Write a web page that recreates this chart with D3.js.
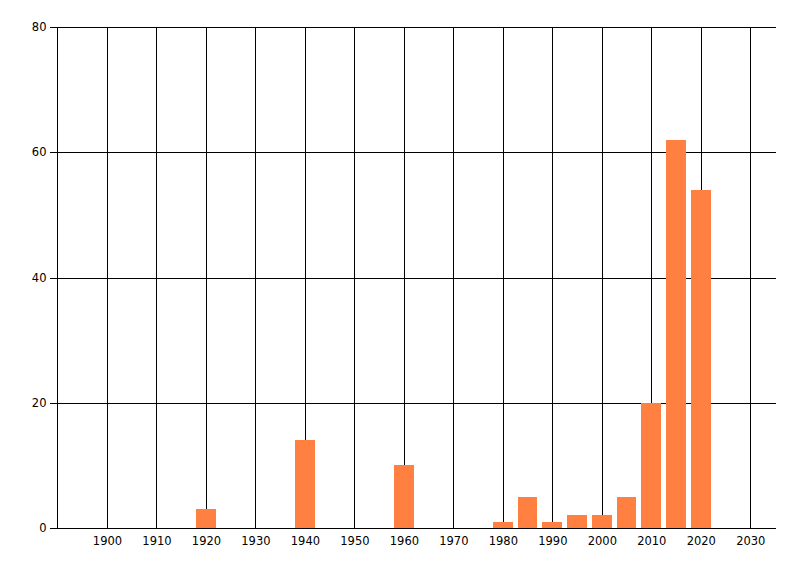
<!DOCTYPE html>
<html><head><meta charset="utf-8">
<script src="https://cdn.jsdelivr.net/npm/d3@7"></script>
<style>body{margin:0;background:#fff}text{font-family:"DejaVu Sans",sans-serif}line,rect{shape-rendering:crispEdges}</style>
</head><body>
<svg id="c" width="800" height="576"></svg>
<script>
const years = [1920, 1940, 1960, 1980, 1985, 1990, 1995, 2000, 2005, 2010, 2015, 2020];
const counts = [3, 14, 10, 1, 5, 1, 2, 2, 5, 20, 62, 54];
const xTicks = [1900, 1910, 1920, 1930, 1940, 1950, 1960, 1970, 1980, 1990, 2000, 2010, 2020, 2030];
const yTicks = [0, 20, 40, 60, 80];

const svg = d3.select("#c");
const pL = 57.5, pR = 776, pT = 27, pB = 528;
const x = d3.scaleLinear().domain([1890, 2035.2]).range([pL, pR]);
const y = d3.scaleLinear().domain([0, 80]).range([pB, pT]);
const barW = 4;

// horizontal grid + y ticks
const yAxis = d3.axisLeft(y).tickValues(yTicks).tickSize(-(pR - pL)).tickSizeOuter(0).tickPadding(4);
const ga = svg.append("g").attr("transform", `translate(${pL},0)`).call(yAxis);
ga.select(".domain").remove();
ga.selectAll(".tick line").attr("x1", -8).attr("stroke", "#000");
ga.selectAll(".tick text").attr("x", -11).attr("font-size", 11.5).attr("fill", "#000").attr("font-family", "DejaVu Sans");

// vertical grid + x labels
const xAxis = d3.axisBottom(x).tickValues(xTicks).tickFormat(d3.format("d")).tickSize(-(pB - pT)).tickSizeOuter(0).tickPadding(9);
const gx = svg.append("g").attr("transform", `translate(0,${pB})`).call(xAxis);
gx.select(".domain").remove();
gx.selectAll(".tick line").attr("stroke", "#000");
gx.selectAll(".tick text").attr("font-size", 11.5).attr("fill", "#000").attr("font-family", "DejaVu Sans");

// left axis line
svg.append("line").attr("x1", pL).attr("x2", pL).attr("y1", y(80)).attr("y2", y(0)).attr("stroke", "#000");

// bars
svg.append("g").selectAll("rect").data(years.map((yr, i) => ({yr, v: counts[i]}))).join("rect")
  .attr("x", d => x(d.yr - barW / 2))
  .attr("width", d => x(d.yr + barW / 2) - x(d.yr - barW / 2))
  .attr("y", d => y(d.v))
  .attr("height", d => y(0) - y(d.v))
  .attr("fill", "#FF8040");

// baseline over bars
svg.append("line").attr("x1", pL - 8).attr("x2", pR).attr("y1", y(0)).attr("y2", y(0)).attr("stroke", "#000");
</script>
</body></html>
